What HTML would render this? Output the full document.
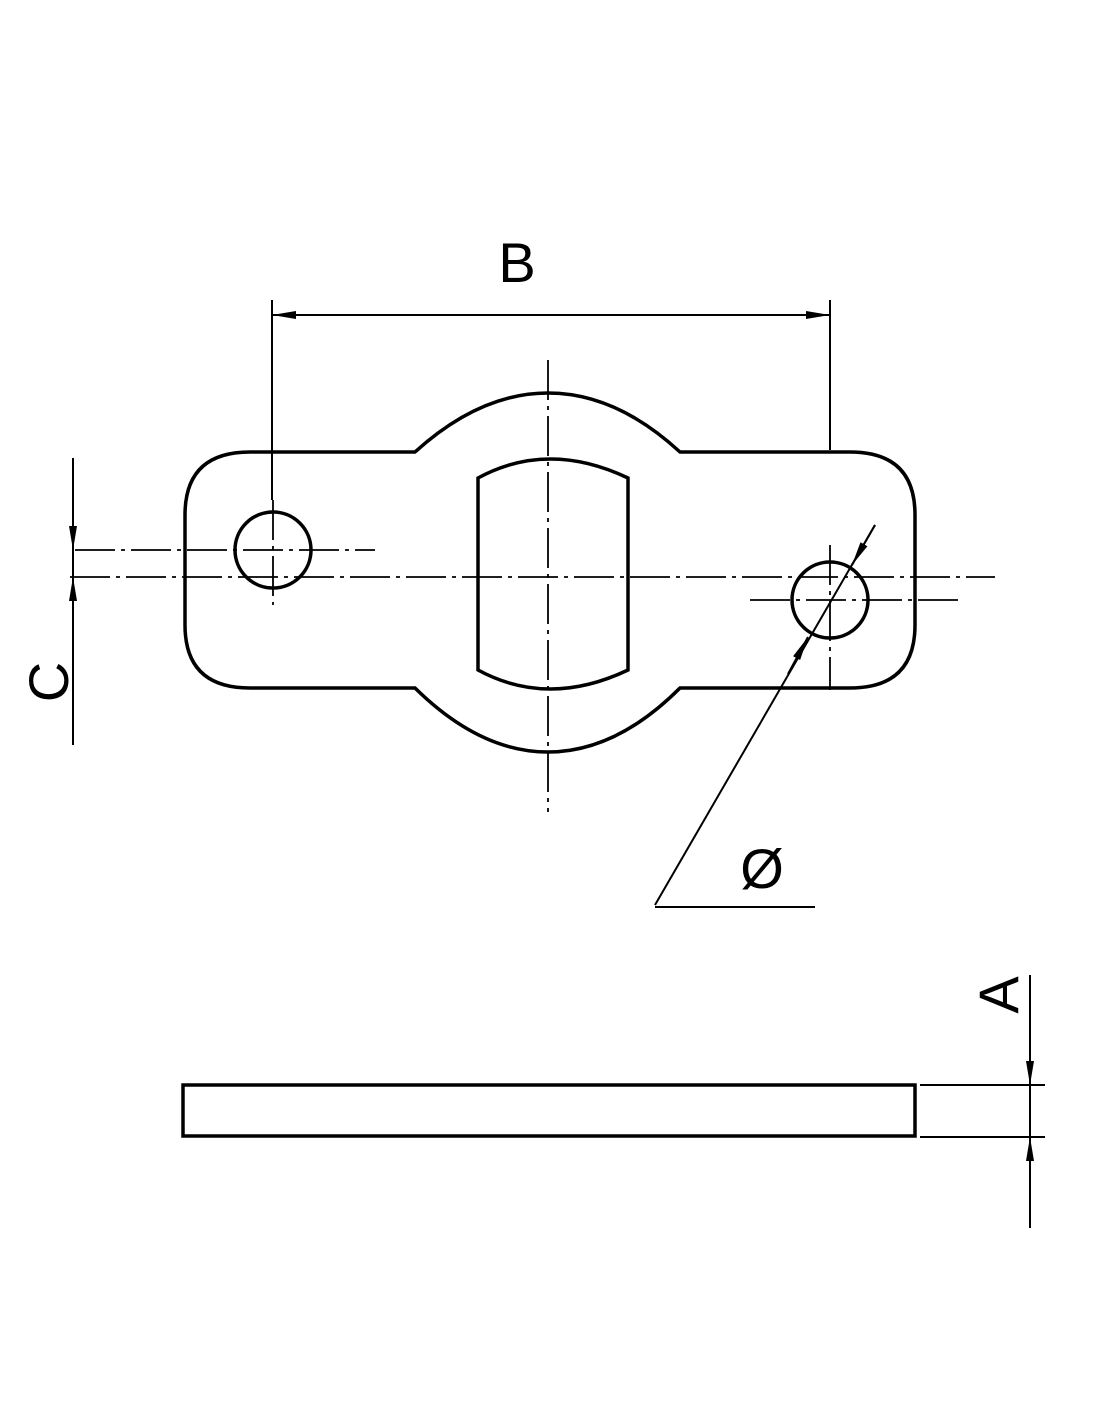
<!DOCTYPE html>
<html><head><meta charset="utf-8"><style>
html,body{margin:0;padding:0;background:#fff;}
svg{display:block;}
text{font-family:"Liberation Sans",sans-serif;fill:#000;}
</style></head><body>
<svg width="1100" height="1422" viewBox="0 0 1100 1422" xmlns="http://www.w3.org/2000/svg">
<defs>
<marker id="ar" viewBox="0 0 24 10" refX="24" refY="5" markerWidth="24" markerHeight="10" markerUnits="userSpaceOnUse" orient="auto-start-reverse">
<path d="M0,1 L24,5 L0,9 Z" fill="#000"/></marker>
</defs>
<g fill="none" stroke="#000">
<path stroke-width="3.5" d="M250,452 L415,452 Q480,393 548,393 Q616,393 680,452 L850,452 Q915,452 915,515 L915,625 Q915,688 850,688 L680,688 Q616,752 548,752 Q480,752 415,688 L250,688 Q185,688 185,625 L185,515 Q185,452 250,452 Z"/>
<path stroke-width="3.5" d="M478,478 Q548,440 628,478 L628,670 Q548,708 478,670 Z"/>
<circle cx="273" cy="550" r="38" stroke-width="3.5"/>
<circle cx="830" cy="600" r="38" stroke-width="3.5"/>
<g stroke-width="1.8" stroke-dasharray="40,6,4,6">
<line x1="70" y1="577" x2="995" y2="577"/>
<line x1="548" y1="360" x2="548" y2="812"/>
<line x1="75" y1="550" x2="375" y2="550"/>
<line x1="273" y1="500" x2="273" y2="605"/>
<line x1="750" y1="600" x2="960" y2="600"/>
<line x1="830" y1="545" x2="830" y2="690"/>
</g>
<line x1="272" y1="300" x2="272" y2="500" stroke-width="2"/>
<line x1="830" y1="300" x2="830" y2="450" stroke-width="2"/>
<line x1="272" y1="315" x2="830" y2="315" stroke-width="2" marker-start="url(#ar)" marker-end="url(#ar)"/>
<line x1="73" y1="458" x2="73" y2="745" stroke-width="2"/>
<line x1="73" y1="515" x2="73" y2="550" stroke-width="2" marker-end="url(#ar)"/>
<line x1="73" y1="615" x2="73" y2="577" stroke-width="2" marker-end="url(#ar)"/>
<line x1="875" y1="525" x2="655" y2="905" stroke-width="2"/>
<line x1="875" y1="525" x2="852" y2="565" stroke-width="2" marker-end="url(#ar)"/>
<line x1="788" y1="674" x2="808" y2="637" stroke-width="2" marker-end="url(#ar)"/>
<line x1="655" y1="907" x2="815" y2="907" stroke-width="2"/>
<rect x="183" y="1085" width="732" height="51" stroke-width="3.5"/>
<line x1="920" y1="1085" x2="1045" y2="1085" stroke-width="2"/>
<line x1="920" y1="1137" x2="1045" y2="1137" stroke-width="2"/>
<line x1="1030" y1="975" x2="1030" y2="1228" stroke-width="2"/>
<line x1="1030" y1="1045" x2="1030" y2="1085" stroke-width="2" marker-end="url(#ar)"/>
<line x1="1030" y1="1180" x2="1030" y2="1137" stroke-width="2" marker-end="url(#ar)"/>
</g>
<text x="517" y="282" font-size="56" text-anchor="middle">B</text>
<text x="762" y="888" font-size="56" text-anchor="middle">Ø</text>
<text transform="translate(68,682) rotate(-90)" font-size="56" text-anchor="middle">C</text>
<text transform="translate(1018,995) rotate(-90)" font-size="56" text-anchor="middle">A</text>
</svg>
</body></html>
